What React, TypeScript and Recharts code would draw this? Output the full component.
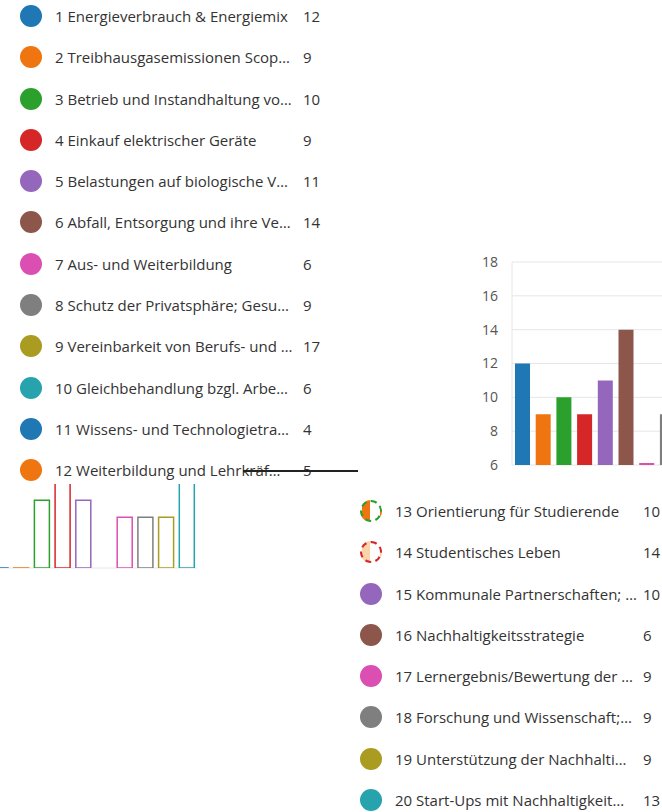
import React from 'react';
import { BarChart, Bar, XAxis, YAxis, CartesianGrid, Cell } from 'recharts';

// Antworten je Thema (Reihenfolge wie in der Legende)
const labels = [
  '1 Energieverbrauch & Energiemix',
  '2 Treibhausgasemissionen Scop…',
  '3 Betrieb und Instandhaltung vo…',
  '4 Einkauf elektrischer Geräte',
  '5 Belastungen auf biologische V…',
  '6 Abfall, Entsorgung und ihre Ve…',
  '7 Aus- und Weiterbildung',
  '8 Schutz der Privatsphäre; Gesu…',
  '9 Vereinbarkeit von Berufs- und …',
  '10 Gleichbehandlung bzgl. Arbe…',
  '11 Wissens- und Technologietra…',
  '12 Weiterbildung und Lehrkräf…',
  '13 Orientierung für Studierende',
  '14 Studentisches Leben',
  '15 Kommunale Partnerschaften; …',
  '16 Nachhaltigkeitsstrategie',
  '17 Lernergebnis/Bewertung der …',
  '18 Forschung und Wissenschaft;…',
  '19 Unterstützung der Nachhalti…',
  '20 Start-Ups mit Nachhaltigkeit…',
];
const values = [12, 9, 10, 9, 11, 14, 6, 9, 17, 6, 4, 5, 10, 14, 10, 6, 9, 9, 9, 13];
const palette = ['#1f77b4', '#ef7511', '#2ca02c', '#d62728', '#9467bd', '#8c564b', '#dc4fb2', '#7f7f7f', '#a99c20', '#27a3ae'];
const yTicks = [6, 8, 10, 12, 14, 16, 18];

const data = labels.map((l, i) => ({ id: i + 1, label: l, value: values[i] }));

const FONT = '"Open Sans", "Noto Sans", sans-serif';
const ROW = 41.3;

// 13 und 14 erscheinen im Original als gestrichelte Kreise
const dashed: Record<number, { border: string; fill: string }> = {
  13: { border: '#2ca02c', fill: '#ef7511' },
  14: { border: '#d62728', fill: '#fbd3a8' },
};

const Dot = ({ id }: { id: number }) => {
  const c = palette[(id - 1) % 10];
  const d = dashed[id];
  if (d) {
    return (
      <span style={{
        display: 'inline-block', width: 18, height: 18, borderRadius: '50%', flex: 'none',
        border: `2px dashed ${d.border}`, background: `linear-gradient(90deg, ${d.fill} 45%, #fff 45%)`,
      }} />
    );
  }
  return <span style={{ display: 'inline-block', width: 22, height: 22, borderRadius: '50%', background: c, flex: 'none' }} />;
};

// Legendenspalte: Punkt, Text, Anzahl
const LegendColumn = ({ from, to, left, top }: { from: number; to: number; left: number; top: number }) => (
  <div style={{ position: 'absolute', left, top }}>
    {data.slice(from, to).map((d) => (
      <div key={d.id} style={{ height: ROW, display: 'flex', alignItems: 'center', fontFamily: FONT, fontSize: 15, color: '#333' }}>
        <div style={{ width: 20 }} />
        <Dot id={d.id} />
        <div style={{ width: 13 }} />
        <div style={{ width: 248, whiteSpace: 'nowrap', overflow: 'hidden' }}>{d.label}</div>
        <div>{d.value}</div>
      </div>
    ))}
  </div>
);

const Chart = ({ outline }: { outline?: boolean }) => (
  <BarChart width={514} height={223} data={data} margin={{ top: 12, right: 60, bottom: 8, left: 0 }} barCategoryGap={3}>
    <CartesianGrid vertical={false} stroke="#e6e6e6" />
    <XAxis dataKey="id" hide />
    <YAxis
      domain={[6, 18]}
      ticks={yTicks}
      allowDataOverflow
      width={40}
      tickLine={false}
      tickMargin={8}
      axisLine={{ stroke: '#e6e6e6' }}
      tick={outline ? false : { fill: '#555', fontSize: 14, fontFamily: FONT }}
    />
    <Bar dataKey="value" isAnimationActive={false} minPointSize={outline ? 0 : 2}>
      {data.map((d) => {
        const c = palette[(d.id - 1) % 10];
        return <Cell key={d.id} fill={outline ? '#fff' : c} stroke={outline ? c : 'none'} strokeWidth={1.5} />;
      })}
    </Bar>
  </BarChart>
);

export default function App() {
  return (
    <div style={{ position: 'fixed', left: 0, top: 0, width: 662, height: 812, overflow: 'hidden', background: '#fff' }}>
      <LegendColumn from={0} to={12} left={0} top={16 - ROW / 2} />
      <div style={{ position: 'absolute', left: 472, top: 250 }}>
        <Chart />
      </div>
      <div style={{ position: 'absolute', left: 0, top: 484, width: 200, height: 88, overflow: 'hidden' }}>
        <div style={{ position: 'absolute', left: -257, top: -131 }}>
          <Chart outline />
        </div>
      </div>
      <div style={{ position: 'absolute', left: 243, top: 470, width: 115, height: 2, background: '#222' }} />
      <LegendColumn from={12} to={20} left={340} top={511 - ROW / 2} />
    </div>
  );
}
